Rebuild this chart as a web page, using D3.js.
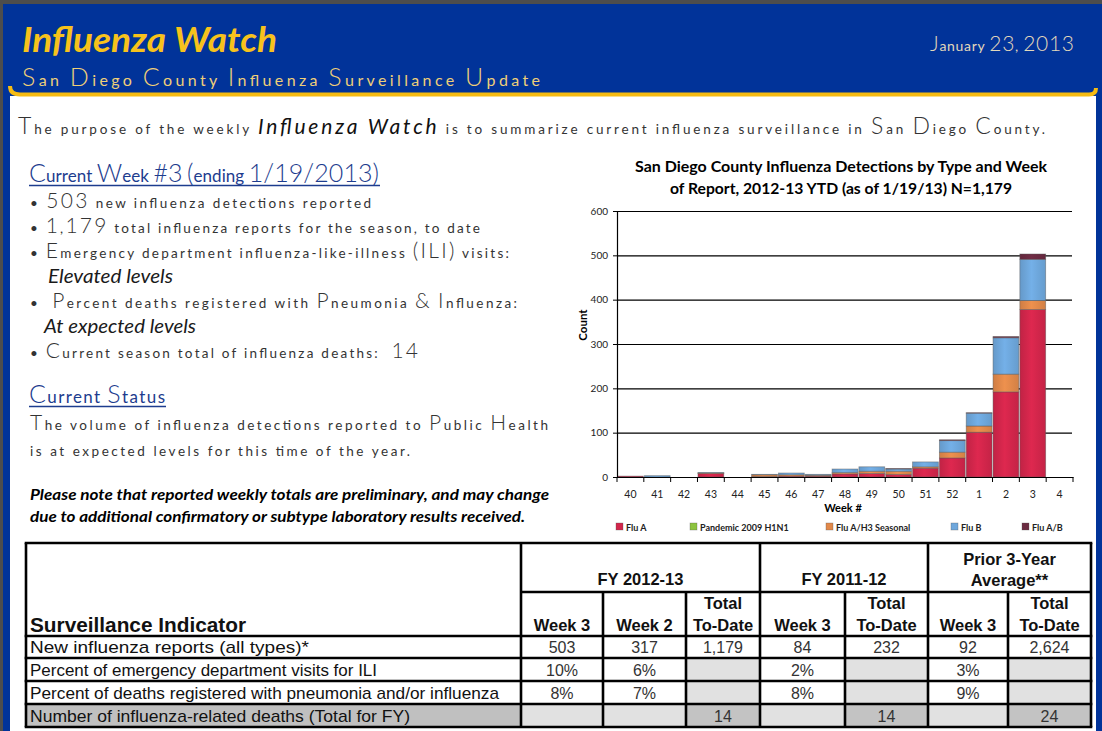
<!DOCTYPE html>
<html><head><meta charset="utf-8">
<script src="https://cdn.jsdelivr.net/npm/d3@7/dist/d3.min.js"></script>
<style>html,body{margin:0;padding:0;background:#4d4d4d;overflow:hidden}svg{display:block}text{white-space:pre}</style>
</head><body>
<script>
// ---------- DATA ----------
const weeks = ["40","41","42","43","44","45","46","47","48","49","50","51","52","1","2","3","4"];
const seriesNames = ["Flu A","Pandemic 2009 H1N1","Flu A/H3 Seasonal","Flu B","Flu A/B"];
const fluA  = [2,0,0,8,0,1,2,2,7,8,6,20,43,101,192,378,0];
const h1n1  = [0,0,0,0,0,0,0,0,0,0,0,0,0,0,0,0,0];
const fluH3 = [0,0,0,1,0,4,3,2,3,5,7,3,13,14,40,20,0];
const fluB  = [0,3,0,1,0,1,4,2,8,10,5,11,26,29,82,93,0];
const fluAB = [0,0,0,0,0,0,0,0,0,0,1,0,2,1,3,12,0];
const yTicks = [0,100,200,300,400,500,600];
const seriesColors = ["#d2264b","#8dc43f","#e2894a","#6ea7dc","#6b2b41"];

const indicators = ["New influenza reports (all types)*","Percent of emergency department visits for ILI","Percent of deaths registered with pneumonia and/or influenza","Number of influenza-related deaths (Total for FY)"];
const groupHeads = ["FY 2012-13","FY 2011-12","Prior 3-Year|Average**"];
const colHeads = ["Week 3","Week 2","Total|To-Date","Week 3","Total|To-Date","Week 3","Total|To-Date"];
const colFY13wk3 = ["503","10%","8%",""];
const colFY13wk2 = ["317","6%","7%",""];
const colFY13tot = ["1,179","","","14"];
const colFY12wk3 = ["84","2%","8%",""];
const colFY12tot = ["232","","","14"];
const colAvgWk3  = ["92","3%","9%",""];
const colAvgTot  = ["2,624","","","24"];

// ---------- CANVAS ----------
const W=1102,H=731;
const svg=d3.select("body").append("svg").attr("width",W).attr("height",H);
const defs=svg.append("defs");

svg.append("rect").attr("width",W).attr("height",H).attr("fill","#013399");
svg.append("rect").attr("width",W).attr("height",4).attr("fill","#4d4d4d");
svg.append("rect").attr("width",3).attr("height",H).attr("fill","#4d4d4d");
svg.append("rect").attr("x",10).attr("y",96).attr("width",1086).attr("height",H-96).attr("fill","#fff");
svg.append("path").attr("d","M10,86 Q10,94.5 20,94.5 L1089,94.5 Q1096,94.5 1096,88")
  .attr("fill","none").attr("stroke","#f6bb12").attr("stroke-width",4);

// text helper: Tw Cen-like (large capitals/digits, small spaced lowercase)
function tw(g,o){
  const t=g.append("text").attr("x",o.x).attr("y",o.y).attr("fill",o.color||"#333")
    .style("font-family","Lato, 'DejaVu Sans', sans-serif");
  const segs = typeof o.str==="string" ? [{t:o.str}] : o.str;
  segs.forEach(sg=>{
    if(sg.italic){
      t.append("tspan").attr("font-size",sg.size).attr("font-style","italic")
        .attr("font-weight",sg.weight||400).attr("fill",sg.color||"#111").text(sg.t);
      return;
    }
    let runs=[];
    for(const ch of sg.t){
      const b=/[A-Z0-9#()\/&]/.test(ch);
      if(runs.length && runs[runs.length-1].b===b) runs[runs.length-1].s+=ch; else runs.push({b,s:ch});
    }
    runs.forEach(r=>t.append("tspan").attr("font-size",r.b?o.big:o.small)
      .attr("font-weight",r.b?300:400).text(r.s));
  });
  if(o.width) t.attr("textLength",o.width).attr("lengthAdjust","spacing");
  return t;
}
function plain(g,o){
  const t=g.append("text").attr("x",o.x).attr("y",o.y).attr("fill",o.color||"#000")
    .attr("font-size",o.size).attr("font-weight",o.weight||400).attr("font-style",o.style||"normal")
    .attr("text-anchor",o.anchor||"start").style("font-family",o.family||"Lato, sans-serif").text(o.t);
  if(o.width) t.attr("textLength",o.width).attr("lengthAdjust","spacingAndGlyphs");
  return t;
}

// ---------- HEADER ----------
plain(svg,{x:22,y:52,t:"Influenza Watch",size:34,weight:700,style:"italic",color:"#f7c21c",width:255});
tw(svg,{x:22,y:86,str:"San Diego County Influenza Surveillance Update",big:25,small:16,color:"#efcf78",width:518});
tw(svg,{x:930,y:51,str:"January 23, 2013",big:21,small:14,color:"#e3d8bb",width:144});

tw(svg,{x:18,y:134,big:23,small:13.5,color:"#333",width:1027,
  str:[{t:"The purpose of the weekly "},{t:"Influenza Watch",italic:true,size:21},{t:" is to summarize current influenza surveillance in San Diego County."}]});

// ---------- LEFT COLUMN ----------
const left=svg.append("g");
tw(left,{x:29,y:182,str:"Current Week #3 (ending 1/19/2013)",big:25,small:17,color:"#1d3c8e",width:350});
left.append("line").attr("x1",29).attr("x2",380).attr("y1",185.5).attr("y2",185.5).attr("stroke","#1d3c8e").attr("stroke-width",1.5);
tw(left,{x:30,y:208,str:"• 503 new influenza detections reported",big:21,small:13.5,width:341});
tw(left,{x:30,y:233,str:"• 1,179 total influenza reports for the season, to date",big:21,small:13.5,width:450});
tw(left,{x:30,y:258,str:"• Emergency department influenza-like-illness (ILI) visits:",big:21,small:13.5,width:479});
plain(left,{x:48,y:283,t:"Elevated levels",size:19,style:"italic",color:"#1a1a1a",width:125});
tw(left,{x:30,y:308,str:"•  Percent deaths registered with Pneumonia & Influenza:",big:21,small:13.5,width:487});
plain(left,{x:44,y:333,t:"At expected levels",size:19,style:"italic",color:"#1a1a1a",width:152});
tw(left,{x:30,y:358,str:"• Current season total of influenza deaths:  14",big:21,small:13.5,width:388});
tw(left,{x:29,y:403,str:"Current Status",big:25,small:17,color:"#1d3c8e",width:136});
left.append("line").attr("x1",29).attr("x2",166).attr("y1",406.5).attr("y2",406.5).attr("stroke","#1d3c8e").attr("stroke-width",1.5);
tw(left,{x:30,y:430,str:"The volume of influenza detections reported to Public Health",big:21,small:13.5,width:518});
tw(left,{x:30,y:456,str:"is at expected levels for this time of the year.",big:21,small:13.5,width:380});
plain(left,{x:30,y:500,t:"Please note that reported weekly totals are preliminary, and may change",size:15,weight:700,style:"italic",width:519});
plain(left,{x:30,y:522,t:"due to additional confirmatory or subtype laboratory results received.",size:15,weight:700,style:"italic",width:495});

// ---------- CHART ----------
const chart=svg.append("g");
plain(chart,{x:841,y:172,t:"San Diego County Influenza Detections by Type and Week",size:15.5,weight:700,anchor:"middle",width:412});
plain(chart,{x:841,y:194,t:"of Report, 2012-13 YTD (as of 1/19/13) N=1,179",size:15.5,weight:700,anchor:"middle",width:342});

const x=d3.scaleBand().domain(weeks).range([617,1073]).padding(0);
const y=d3.scaleLinear().domain([0,600]).range([477,211]);

chart.append("g").selectAll("line").data(yTicks.slice(1)).join("line")
  .attr("x1",617).attr("x2",1072).attr("y1",d=>y(d)+0.5).attr("y2",d=>y(d)+0.5)
  .attr("stroke","#000").attr("stroke-width",1.2);

const rows=weeks.map((w,i)=>({week:w,"Flu A":fluA[i],"Pandemic 2009 H1N1":h1n1[i],"Flu A/H3 Seasonal":fluH3[i],"Flu B":fluB[i],"Flu A/B":fluAB[i]}));
const stack=d3.stack().keys(seriesNames)(rows);

seriesColors.forEach((c,i)=>{
  const gr=defs.append("linearGradient").attr("id","g"+i).attr("x1","0").attr("x2","1").attr("y1","0").attr("y2","0");
  const cc=d3.color(c);
  gr.append("stop").attr("offset","0").attr("stop-color",cc.darker(0.25));
  gr.append("stop").attr("offset","0.45").attr("stop-color",cc.brighter(0.15));
  gr.append("stop").attr("offset","1").attr("stop-color",cc.darker(0.2));
});

const sg=chart.append("g").selectAll("g").data(stack).join("g").attr("fill",(d,i)=>`url(#g${i})`);
sg.selectAll("rect").data(d=>d.filter(p=>p[1]-p[0]>0)).join("rect")
  .attr("x",d=>x(d.data.week)+0.5).attr("width",x.bandwidth()-1)
  .attr("y",d=>y(d[1])).attr("height",d=>y(d[0])-y(d[1]))
  .attr("stroke","rgba(90,90,90,0.55)").attr("stroke-width",0.8);

// Axes
const yAx=chart.append("g").attr("transform","translate(617,0)")
  .call(d3.axisLeft(y).tickValues(yTicks).tickSize(4).tickPadding(5));
yAx.select(".domain").attr("stroke","#000").attr("stroke-width",1.2);
yAx.selectAll(".tick line").attr("stroke","#000");
yAx.selectAll("text").attr("font-size",10).attr("fill","#222").style("font-family","Lato, sans-serif");

const xAx=chart.append("g").attr("transform","translate(0,477)")
  .call(d3.axisBottom(x).tickSize(0).tickPadding(14));
xAx.select(".domain").attr("stroke","#000").attr("stroke-width",1.2);
xAx.selectAll("text").attr("font-size",10.5).attr("fill","#222").style("font-family","Lato, sans-serif");
chart.append("g").selectAll("line").data(weeks.map(w=>x(w)).concat([x.range()[1]])).join("line")
  .attr("x1",d=>d).attr("x2",d=>d).attr("y1",477).attr("y2",482).attr("stroke","#000");

plain(chart,{x:843,y:512,t:"Week #",size:11,weight:700,anchor:"middle"});
plain(chart,{x:0,y:0,t:"Count",size:11.5,weight:700,anchor:"middle"}).attr("transform","translate(587,325) rotate(-90)");

const legX=[616,690,826,951,1022];
const leg=chart.append("g").selectAll("g").data(seriesNames).join("g").attr("transform",(d,i)=>`translate(${legX[i]},523)`);
leg.append("rect").attr("width",7).attr("height",7).attr("fill",(d,i)=>seriesColors[i]).attr("stroke","rgba(80,80,80,0.5)").attr("stroke-width",0.6);
leg.append("text").attr("x",10).attr("y",7.5).attr("font-size",9).attr("font-weight",700).style("font-family","Lato, sans-serif").attr("fill","#222").text(d=>d);

// ---------- TABLE ----------
const tb=svg.append("g");
const cx=[26,521,603,686,760,845,928,1008,1091];
const ry=[543,592,636,658,681,704,727];
const cols=[colFY13wk3,colFY13wk2,colFY13tot,colFY12wk3,colFY12tot,colAvgWk3,colAvgTot];
const light="#e1e1e1", dark="#c3c3c3";
indicators.forEach((lab,r)=>{
  const y0=ry[2+r], y1=ry[3+r];
  if(r===3) tb.append("rect").attr("x",cx[0]).attr("y",y0).attr("width",cx[1]-cx[0]).attr("height",y1-y0).attr("fill","#c0c0c0");
  cols.forEach((c,j)=>{
    const isTot=(j===2||j===4||j===6);
    let f=null;
    if(r===1||r===2){ if(isTot) f=light; }
    if(r===3){ f=isTot?dark:light; }
    if(f) tb.append("rect").attr("x",cx[j+1]).attr("y",y0).attr("width",cx[j+2]-cx[j+1]).attr("height",y1-y0).attr("fill",f);
  });
});
const lw=2.6;
const ln=(x1,y1,x2,y2)=>tb.append("line").attr("x1",x1).attr("y1",y1).attr("x2",x2).attr("y2",y2).attr("stroke","#000").attr("stroke-width",lw);
ln(cx[0]-1.3,ry[0],cx[8]+1.3,ry[0]);
ln(cx[1],ry[1],cx[8],ry[1]);
for(let k=2;k<ry.length;k++) ln(cx[0]-1.3,ry[k],cx[8]+1.3,ry[k]);
ln(cx[0],ry[0],cx[0],ry[6]); ln(cx[8],ry[0],cx[8],ry[6]); ln(cx[1],ry[0],cx[1],ry[6]);
[4,6].forEach(k=>ln(cx[k],ry[0],cx[k],ry[6]));
[2,3,5,7].forEach(k=>ln(cx[k],ry[1],cx[k],ry[6]));

const AR="'Liberation Sans', Arial, sans-serif";
const gSpan=[[1,4],[4,6],[6,8]];
groupHeads.forEach((h,i)=>{
  const mid=(cx[gSpan[i][0]]+cx[gSpan[i][1]])/2;
  const parts=h.split("|");
  parts.forEach((p,k)=>plain(tb,{x:mid,y:parts.length===1?585:565+k*21,t:p,size:16.5,weight:700,anchor:"middle",family:AR,color:"#111"}));
});
colHeads.forEach((h,j)=>{
  const mid=(cx[j+1]+cx[j+2])/2;
  const parts=h.split("|");
  parts.forEach((p,k)=>plain(tb,{x:mid,y:parts.length===1?631:609+k*22,t:p,size:16.5,weight:700,anchor:"middle",family:AR,color:"#111"}));
});
plain(tb,{x:30,y:632,t:"Surveillance Indicator",size:20,weight:700,family:AR,color:"#111",width:216});
const labW=[279,347,469,380];
indicators.forEach((lab,r)=>{
  const yb=ry[3+r]-5;
  plain(tb,{x:30,y:yb,t:lab,size:17,family:AR,color:"#111",width:labW[r]});
  cols.forEach((c,j)=>{
    if(c[r]) plain(tb,{x:(cx[j+1]+cx[j+2])/2,y:yb,t:c[r],size:16,family:AR,anchor:"middle",color:"#333"});
  });
});
</script>
</body></html>
